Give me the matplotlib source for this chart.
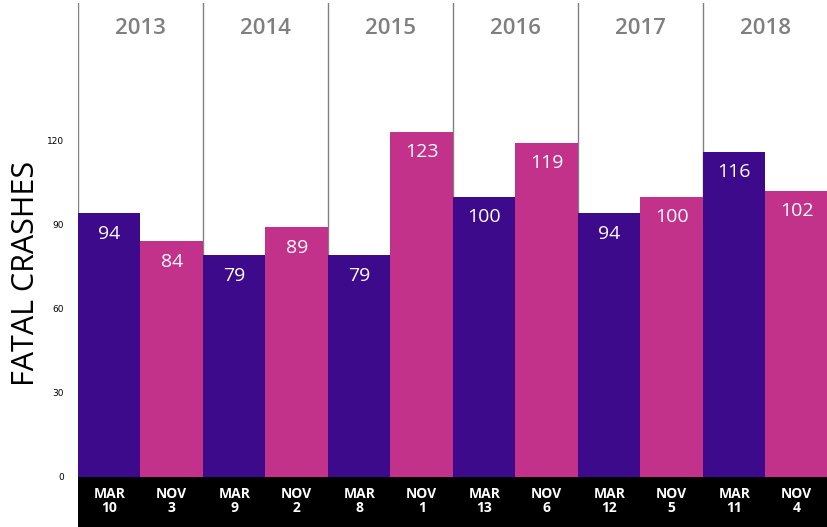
import matplotlib.pyplot as plt

# datos
years = ["2013", "2014", "2015", "2016", "2017", "2018"]
labels = ["MAR\n10", "NOV\n3", "MAR\n9", "NOV\n2", "MAR\n8", "NOV\n1",
          "MAR\n13", "NOV\n6", "MAR\n12", "NOV\n5", "MAR\n11", "NOV\n4"]
crashes = [94, 84, 79, 89, 79, 123, 100, 119, 94, 100, 116, 102]
yticks = [0, 30, 60, 90, 120]

purple = "#3c0a8a"
pink = "#c2318a"
colors = [purple if i % 2 == 0 else pink for i in range(len(crashes))]

plt.rcParams["font.family"] = ["Open Sans", "DejaVu Sans"]

fig = plt.figure(figsize=(8.28, 5.27), dpi=100)
ax = fig.add_axes([0.0942, 0.0949, 0.9058, 0.8994])

x = list(range(len(crashes)))

# separadores de anio
for k in range(len(years)):
    ax.axvline(2 * k - 0.5, color="#808080", linewidth=1, zorder=0)

ax.bar(x, crashes, width=1.0, color=colors, zorder=2)

for xi, v in zip(x, crashes):
    ax.text(xi, v - 4, str(v), color="white", fontsize=14, ha="center", va="top", zorder=3)

for k, yr in enumerate(years):
    ax.text(2 * k + 0.5, 160, yr, color="#7f7f7f", fontsize=16, fontweight="semibold",
            ha="center", va="center")

ax.set_xlim(-0.5, 11.5)
ax.set_ylim(0, 169)
ax.set_xticks([])
ax.set_yticks(yticks)
ax.set_yticklabels([str(t) for t in yticks], fontsize=6.5, family="DejaVu Sans")
ax.tick_params(axis="y", length=0, pad=10)
for s in ["top", "right", "bottom", "left"]:
    ax.spines[s].set_visible(False)

# titulo del eje y
fig.text(0.031, 0.482, "FATAL CRASHES", fontsize=22, rotation=90,
         ha="center", va="center")

# franja negra con fechas
bx = fig.add_axes([0.0942, 0.0, 0.9058, 0.0949])
bx.set_facecolor("black")
bx.set_xlim(-0.5, 11.5)
bx.set_ylim(0, 1)
for xi, lab in zip(x, labels):
    bx.text(xi, 0.52, lab, color="white", fontsize=10, fontweight="bold",
            ha="center", va="center", linespacing=1.0)
bx.set_xticks([])
bx.set_yticks([])
for s in bx.spines.values():
    s.set_visible(False)

plt.savefig("out.png")
